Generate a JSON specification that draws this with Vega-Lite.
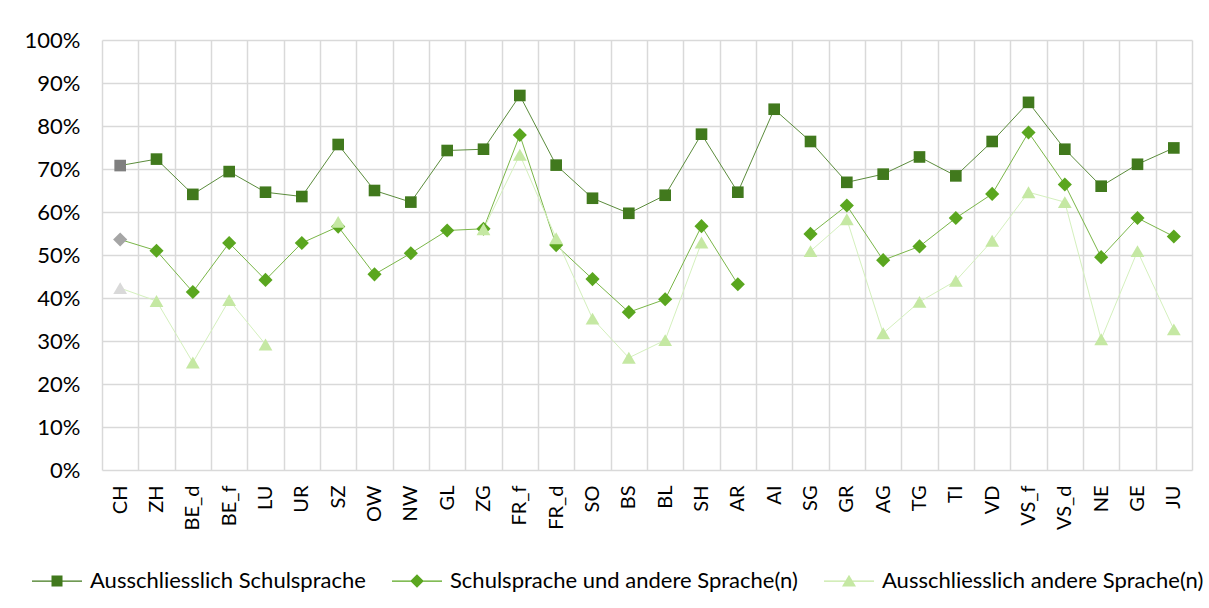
{
  "$schema": "https://vega.github.io/schema/vega-lite/v6.json",
  "autosize": "none",
  "width": 1090,
  "height": 430,
  "padding": {"left": 102, "top": 40, "right": 17, "bottom": 138},
  "background": "white",
  "datasets": {
    "d": [
      {"k": "CH", "s": "Ausschliesslich Schulsprache", "v": 70.8},
      {"k": "ZH", "s": "Ausschliesslich Schulsprache", "v": 72.3},
      {"k": "BE_d", "s": "Ausschliesslich Schulsprache", "v": 64.1},
      {"k": "BE_f", "s": "Ausschliesslich Schulsprache", "v": 69.4},
      {"k": "LU", "s": "Ausschliesslich Schulsprache", "v": 64.6},
      {"k": "UR", "s": "Ausschliesslich Schulsprache", "v": 63.6},
      {"k": "SZ", "s": "Ausschliesslich Schulsprache", "v": 75.7},
      {"k": "OW", "s": "Ausschliesslich Schulsprache", "v": 65.0},
      {"k": "NW", "s": "Ausschliesslich Schulsprache", "v": 62.3},
      {"k": "GL", "s": "Ausschliesslich Schulsprache", "v": 74.3},
      {"k": "ZG", "s": "Ausschliesslich Schulsprache", "v": 74.6},
      {"k": "FR_f", "s": "Ausschliesslich Schulsprache", "v": 87.1},
      {"k": "FR_d", "s": "Ausschliesslich Schulsprache", "v": 70.9},
      {"k": "SO", "s": "Ausschliesslich Schulsprache", "v": 63.2},
      {"k": "BS", "s": "Ausschliesslich Schulsprache", "v": 59.7},
      {"k": "BL", "s": "Ausschliesslich Schulsprache", "v": 63.9},
      {"k": "SH", "s": "Ausschliesslich Schulsprache", "v": 78.1},
      {"k": "AR", "s": "Ausschliesslich Schulsprache", "v": 64.6},
      {"k": "AI", "s": "Ausschliesslich Schulsprache", "v": 83.9},
      {"k": "SG", "s": "Ausschliesslich Schulsprache", "v": 76.4},
      {"k": "GR", "s": "Ausschliesslich Schulsprache", "v": 66.9},
      {"k": "AG", "s": "Ausschliesslich Schulsprache", "v": 68.8},
      {"k": "TG", "s": "Ausschliesslich Schulsprache", "v": 72.8},
      {"k": "TI", "s": "Ausschliesslich Schulsprache", "v": 68.4},
      {"k": "VD", "s": "Ausschliesslich Schulsprache", "v": 76.4},
      {"k": "VS_f", "s": "Ausschliesslich Schulsprache", "v": 85.5},
      {"k": "VS_d", "s": "Ausschliesslich Schulsprache", "v": 74.6},
      {"k": "NE", "s": "Ausschliesslich Schulsprache", "v": 66.0},
      {"k": "GE", "s": "Ausschliesslich Schulsprache", "v": 71.1},
      {"k": "JU", "s": "Ausschliesslich Schulsprache", "v": 74.9},
      {"k": "CH", "s": "Schulsprache und andere Sprache(n)", "v": 53.6},
      {"k": "ZH", "s": "Schulsprache und andere Sprache(n)", "v": 51.0},
      {"k": "BE_d", "s": "Schulsprache und andere Sprache(n)", "v": 41.4},
      {"k": "BE_f", "s": "Schulsprache und andere Sprache(n)", "v": 52.8},
      {"k": "LU", "s": "Schulsprache und andere Sprache(n)", "v": 44.2},
      {"k": "UR", "s": "Schulsprache und andere Sprache(n)", "v": 52.8},
      {"k": "SZ", "s": "Schulsprache und andere Sprache(n)", "v": 56.6},
      {"k": "OW", "s": "Schulsprache und andere Sprache(n)", "v": 45.5},
      {"k": "NW", "s": "Schulsprache und andere Sprache(n)", "v": 50.4},
      {"k": "GL", "s": "Schulsprache und andere Sprache(n)", "v": 55.7},
      {"k": "ZG", "s": "Schulsprache und andere Sprache(n)", "v": 56.1},
      {"k": "FR_f", "s": "Schulsprache und andere Sprache(n)", "v": 77.9},
      {"k": "FR_d", "s": "Schulsprache und andere Sprache(n)", "v": 52.3},
      {"k": "SO", "s": "Schulsprache und andere Sprache(n)", "v": 44.4},
      {"k": "BS", "s": "Schulsprache und andere Sprache(n)", "v": 36.7},
      {"k": "BL", "s": "Schulsprache und andere Sprache(n)", "v": 39.7},
      {"k": "SH", "s": "Schulsprache und andere Sprache(n)", "v": 56.7},
      {"k": "AR", "s": "Schulsprache und andere Sprache(n)", "v": 43.2},
      {"k": "AI", "s": "Schulsprache und andere Sprache(n)", "v": null},
      {"k": "SG", "s": "Schulsprache und andere Sprache(n)", "v": 54.9},
      {"k": "GR", "s": "Schulsprache und andere Sprache(n)", "v": 61.5},
      {"k": "AG", "s": "Schulsprache und andere Sprache(n)", "v": 48.8},
      {"k": "TG", "s": "Schulsprache und andere Sprache(n)", "v": 52.0},
      {"k": "TI", "s": "Schulsprache und andere Sprache(n)", "v": 58.6},
      {"k": "VD", "s": "Schulsprache und andere Sprache(n)", "v": 64.2},
      {"k": "VS_f", "s": "Schulsprache und andere Sprache(n)", "v": 78.5},
      {"k": "VS_d", "s": "Schulsprache und andere Sprache(n)", "v": 66.4},
      {"k": "NE", "s": "Schulsprache und andere Sprache(n)", "v": 49.5},
      {"k": "GE", "s": "Schulsprache und andere Sprache(n)", "v": 58.6},
      {"k": "JU", "s": "Schulsprache und andere Sprache(n)", "v": 54.3},
      {"k": "CH", "s": "Ausschliesslich andere Sprache(n)", "v": 42.3},
      {"k": "ZH", "s": "Ausschliesslich andere Sprache(n)", "v": 39.3},
      {"k": "BE_d", "s": "Ausschliesslich andere Sprache(n)", "v": 25.0},
      {"k": "BE_f", "s": "Ausschliesslich andere Sprache(n)", "v": 39.5},
      {"k": "LU", "s": "Ausschliesslich andere Sprache(n)", "v": 29.2},
      {"k": "UR", "s": "Ausschliesslich andere Sprache(n)", "v": null},
      {"k": "SZ", "s": "Ausschliesslich andere Sprache(n)", "v": 57.7},
      {"k": "OW", "s": "Ausschliesslich andere Sprache(n)", "v": null},
      {"k": "NW", "s": "Ausschliesslich andere Sprache(n)", "v": null},
      {"k": "GL", "s": "Ausschliesslich andere Sprache(n)", "v": null},
      {"k": "ZG", "s": "Ausschliesslich andere Sprache(n)", "v": 56.0},
      {"k": "FR_f", "s": "Ausschliesslich andere Sprache(n)", "v": 73.3},
      {"k": "FR_d", "s": "Ausschliesslich andere Sprache(n)", "v": 53.9},
      {"k": "SO", "s": "Ausschliesslich andere Sprache(n)", "v": 35.2},
      {"k": "BS", "s": "Ausschliesslich andere Sprache(n)", "v": 26.1},
      {"k": "BL", "s": "Ausschliesslich andere Sprache(n)", "v": 30.2},
      {"k": "SH", "s": "Ausschliesslich andere Sprache(n)", "v": 52.9},
      {"k": "AR", "s": "Ausschliesslich andere Sprache(n)", "v": null},
      {"k": "AI", "s": "Ausschliesslich andere Sprache(n)", "v": null},
      {"k": "SG", "s": "Ausschliesslich andere Sprache(n)", "v": 50.9},
      {"k": "GR", "s": "Ausschliesslich andere Sprache(n)", "v": 58.3},
      {"k": "AG", "s": "Ausschliesslich andere Sprache(n)", "v": 31.8},
      {"k": "TG", "s": "Ausschliesslich andere Sprache(n)", "v": 39.1},
      {"k": "TI", "s": "Ausschliesslich andere Sprache(n)", "v": 44.0},
      {"k": "VD", "s": "Ausschliesslich andere Sprache(n)", "v": 53.3},
      {"k": "VS_f", "s": "Ausschliesslich andere Sprache(n)", "v": 64.6},
      {"k": "VS_d", "s": "Ausschliesslich andere Sprache(n)", "v": 62.3},
      {"k": "NE", "s": "Ausschliesslich andere Sprache(n)", "v": 30.4},
      {"k": "GE", "s": "Ausschliesslich andere Sprache(n)", "v": 50.9},
      {"k": "JU", "s": "Ausschliesslich andere Sprache(n)", "v": 32.7}
    ]
  },
  "data": {"name": "d"},
  "encoding": {
    "x": {
      "field": "k", "type": "nominal",
      "sort": ["CH","ZH","BE_d","BE_f","LU","UR","SZ","OW","NW","GL","ZG","FR_f","FR_d","SO","BS","BL","SH","AR","AI","SG","GR","AG","TG","TI","VD","VS_f","VS_d","NE","GE","JU"],
      "scale": {"type": "band", "paddingInner": 0, "paddingOuter": 0},
      "axis": {"title": null, "labelAngle": -90, "tickBand": "extent", "grid": true, "labelPadding": 15}
    },
    "y": {
      "field": "v", "type": "quantitative",
      "scale": {"domain": [0, 100]},
      "axis": {"title": null, "values": [0,10,20,30,40,50,60,70,80,90,100], "labelExpr": "datum.value + '%'", "labelPadding": 22, "grid": true, "labelFontSize": 22}
    }
  },
  "layer": [
    {
      "mark": {"type": "line", "strokeWidth": 1, "invalid": "break-paths-filter-domains"},
      "encoding": {
        "detail": {"field": "s", "type": "nominal"},
        "stroke": {
          "condition": [
            {"test": "datum.s === 'Ausschliesslich Schulsprache'", "value": "#5b8c3c"},
            {"test": "datum.s === 'Schulsprache und andere Sprache(n)'", "value": "#7ab648"}
          ],
          "value": "#d4f0bd"
        }
      }
    },
    {
      "mark": {"type": "point", "filled": true, "opacity": 1},
      "encoding": {
        "shape": {
          "field": "s", "type": "nominal",
          "scale": {"domain": ["Ausschliesslich Schulsprache", "Schulsprache und andere Sprache(n)", "Ausschliesslich andere Sprache(n)"], "range": ["square", "diamond", "triangle-up"]},
          "legend": null
        },
        "size": {
          "condition": [
            {"test": "datum.s === 'Ausschliesslich Schulsprache'", "value": 135},
            {"test": "datum.s === 'Schulsprache und andere Sprache(n)'", "value": 200}
          ],
          "value": 190
        },
        "fill": {
          "condition": [
            {"test": "datum.k === 'CH' && datum.s === 'Ausschliesslich Schulsprache'", "value": "#7f7f7f"},
            {"test": "datum.k === 'CH' && datum.s === 'Schulsprache und andere Sprache(n)'", "value": "#a5a5a5"},
            {"test": "datum.k === 'CH'", "value": "#d9d9d9"},
            {"test": "datum.s === 'Ausschliesslich Schulsprache'", "value": "#41791d"},
            {"test": "datum.s === 'Schulsprache und andere Sprache(n)'", "value": "#5aa61f"}
          ],
          "value": "#c5e8a3"
        }
      }
    },
    {
      "transform": [{"filter": "false"}],
      "mark": {"type": "point", "filled": true, "opacity": 1},
      "encoding": {
        "shape": {
          "field": "s", "type": "nominal",
          "scale": {"domain": ["Ausschliesslich Schulsprache", "Schulsprache und andere Sprache(n)", "Ausschliesslich andere Sprache(n)"], "range": ["M-1,-0.025H1V0.025H-1Z M-0.22,-0.22H0.22V0.22H-0.22Z", "M-1,-0.025H1V0.025H-1Z M0,-0.27L0.27,0L0,0.27L-0.27,0Z", "M-1,-0.025H1V0.025H-1Z M0,-0.25L0.28,0.22H-0.28Z"]},
          "legend": {
            "title": null,
            "orient": "none",
            "legendX": -71,
            "legendY": 515,
            "direction": "horizontal",
            "symbolSize": 2500,
            "labelFont": "Lato",
            "labelFontSize": 22,
            "labelColor": "#000000",
            "labelOffset": 7,
            "columnPadding": 23,
            "labelLimit": 600,
            "padding": 0
          }
        },
        "fill": {
          "field": "s", "type": "nominal",
          "scale": {"domain": ["Ausschliesslich Schulsprache", "Schulsprache und andere Sprache(n)", "Ausschliesslich andere Sprache(n)"], "range": ["#41791d", "#5aa61f", "#c5e8a3"]},
          "legend": {
            "title": null,
            "orient": "none",
            "legendX": -71,
            "legendY": 515,
            "direction": "horizontal",
            "symbolSize": 2500,
            "labelFont": "Lato",
            "labelFontSize": 22,
            "labelColor": "#000000",
            "labelOffset": 7,
            "columnPadding": 23,
            "labelLimit": 600,
            "padding": 0
          }
        }
      }
    }
  ],
  "resolve": {"scale": {"shape": "independent", "fill": "independent"}},
  "config": {
    "font": "Lato",
    "view": {"stroke": null},
    "axis": {"domain": false, "ticks": false, "gridColor": "#d9d9d9", "gridWidth": 1.5, "labelFont": "Lato", "labelFontSize": 20, "labelColor": "#000000"}
  }
}
